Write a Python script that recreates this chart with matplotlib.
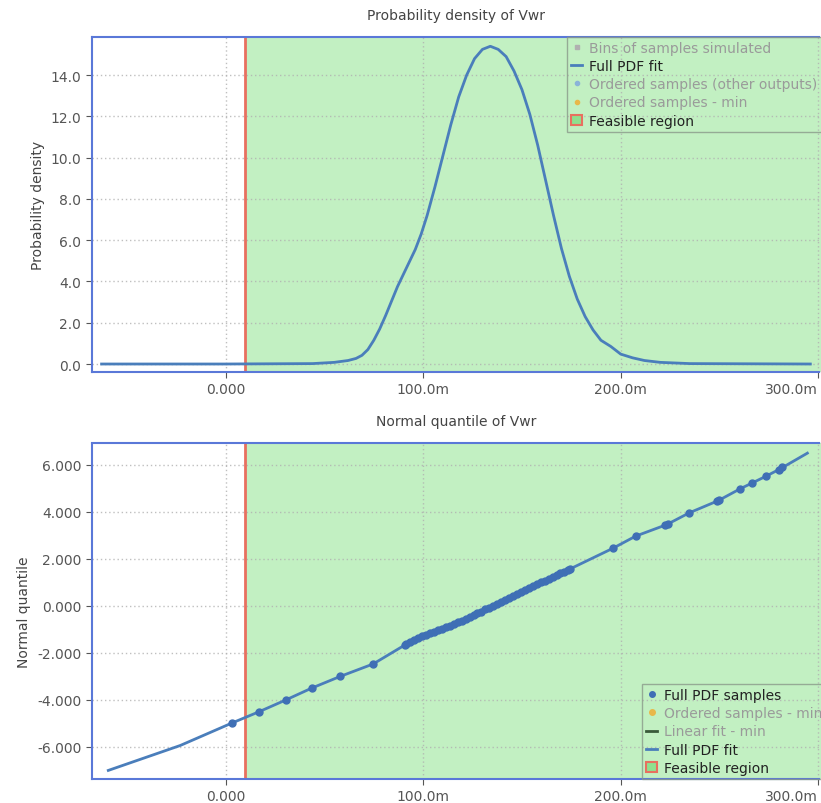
import matplotlib.pyplot as plt
from matplotlib.lines import Line2D
from matplotlib.patches import Patch

# PDF fit (x in V, y = density)
pdf_x = [-0.0628, 0.0, 0.044, 0.055, 0.062, 0.066, 0.069, 0.072, 0.075, 0.078, 0.081, 0.084,
         0.087, 0.090, 0.093, 0.096, 0.099, 0.102, 0.106, 0.110, 0.114, 0.118, 0.122, 0.126,
         0.130, 0.134, 0.138, 0.142, 0.146, 0.150, 0.154, 0.158, 0.162, 0.166, 0.170, 0.174,
         0.178, 0.182, 0.186, 0.190, 0.195, 0.200, 0.206, 0.212, 0.220, 0.235, 0.296]
pdf_y = [0.0, 0.0, 0.02, 0.08, 0.17, 0.27, 0.42, 0.70, 1.15, 1.70, 2.35, 3.05,
         3.75, 4.35, 4.95, 5.55, 6.30, 7.20, 8.60, 10.10, 11.60, 12.95, 14.00, 14.80,
         15.25, 15.40, 15.25, 14.90, 14.20, 13.30, 12.10, 10.60, 8.90, 7.20, 5.60, 4.25,
         3.15, 2.30, 1.65, 1.15, 0.85, 0.48, 0.30, 0.17, 0.08, 0.02, 0.0]

# normal quantile fit line
qfit_x = [-0.0594, -0.023, 0.003, 0.017, 0.0305, 0.0435, 0.058, 0.0747, 0.0908, 0.0984,
          0.122, 0.139, 0.1557, 0.1743, 0.196, 0.2076, 0.2233, 0.2347, 0.2494, 0.2604,
          0.2663, 0.2736, 0.2807, 0.2945]
qfit_y = [-7.0, -5.94, -4.99, -4.5, -4.0, -3.5, -3.0, -2.47, -1.66, -1.33,
          -0.55, 0.16, 0.86, 1.57, 2.45, 2.97, 3.46, 3.96, 4.48, 4.98,
          5.22, 5.52, 5.83, 6.5]

# full PDF samples (markers)
samp_x = [0.003, 0.017, 0.0305, 0.0435, 0.0579, 0.0747, 0.0908, 0.0915, 0.0935, 0.0955,
          0.0975, 0.0995, 0.1015, 0.1035, 0.1055, 0.1075, 0.1095, 0.1115, 0.1135, 0.1155,
          0.1175, 0.1195, 0.1215, 0.1235, 0.1255, 0.1275, 0.1295, 0.1315, 0.1335, 0.1355,
          0.1375, 0.1395, 0.1415, 0.1435, 0.1455, 0.1475, 0.1495, 0.1515, 0.1535, 0.1555,
          0.1575, 0.1595, 0.1615, 0.1635, 0.1655, 0.1675, 0.1695, 0.1715, 0.1735, 0.1745,
          0.196, 0.2076, 0.2225, 0.2240, 0.2347, 0.2485, 0.2500, 0.2604, 0.2663, 0.2736,
          0.2800, 0.2815]
samp_y = [-4.99, -4.5, -3.99, -3.49, -2.99, -2.47, -1.66, -1.62, -1.54, -1.45,
          -1.37, -1.30, -1.23, -1.17, -1.10, -1.04, -0.97, -0.90, -0.84, -0.77,
          -0.70, -0.64, -0.57, -0.49, -0.40, -0.32, -0.24, -0.15, -0.07, 0.01,
          0.10, 0.18, 0.26, 0.35, 0.43, 0.52, 0.60, 0.68, 0.77, 0.85,
          0.93, 1.01, 1.08, 1.16, 1.24, 1.31, 1.39, 1.46, 1.54, 1.58,
          2.45, 2.97, 3.44, 3.48, 3.96, 4.46, 4.50, 4.98, 5.22, 5.52,
          5.80, 5.90]

x_ticks = [0.0, 0.1, 0.2, 0.3]
x_labels = ['0.000', '100.0m', '200.0m', '300.0m']
pdf_ticks = [0, 2, 4, 6, 8, 10, 12, 14]
pdf_labels = ['0.0', '2.0', '4.0', '6.0', '8.0', '10.0', '12.0', '14.0']
q_ticks = [-6, -4, -2, 0, 2, 4, 6]
q_labels = ['-6.000', '-4.000', '-2.000', '0.000', '2.000', '4.000', '6.000']

feasible_min = 0.01

blue = '#4a7ebb'
green = '#c2f0c2'
red = '#e8705f'
txt = '#444444'
grey_txt = '#9a9a9a'


def style_axes(ax, yticks, ylabels, ylim):
    ax.set_xlim(-0.0678, 0.3014)
    ax.set_ylim(*ylim)
    ax.set_xticks(x_ticks)
    ax.set_xticklabels(x_labels)
    ax.get_xticklabels()[-1].set_horizontalalignment('right')
    ax.set_yticks(yticks)
    ax.set_yticklabels(ylabels)
    ax.tick_params(colors='#555555', labelsize=10, length=4)
    ax.set_axisbelow(True)
    ax.grid(True, color='#b0b0b0', linestyle=(0, (1, 2)), linewidth=1, alpha=0.8)
    for s in ['top', 'bottom', 'left']:
        ax.spines[s].set_color('#5a78d8')
        ax.spines[s].set_linestyle((0, (1, 1)))
        ax.spines[s].set_linewidth(1.5)
    ax.spines['right'].set_visible(False)
    ax.axvspan(feasible_min, 0.3014, color=green, zorder=0.2, linewidth=0)
    ax.axvline(feasible_min, color=red, linewidth=2, zorder=2)


fig = plt.figure(figsize=(8.21, 8.04), dpi=100)
ax1 = fig.add_axes([0.1117, 0.536, 0.8883, 0.417])
ax2 = fig.add_axes([0.1117, 0.030, 0.8883, 0.418])

# top: probability density
style_axes(ax1, pdf_ticks, pdf_labels, (-0.39, 15.86))
ax1.plot(pdf_x, pdf_y, color=blue, linewidth=2, zorder=3)
ax1.set_title('Probability density of Vwr', color=txt, fontsize=10, pad=13)
ax1.set_ylabel('Probability density', color=txt, fontsize=10)

h1 = [Line2D([], [], marker='s', linestyle='', color='#b0b0b0', markersize=3),
      Line2D([], [], color=blue, linewidth=2),
      Line2D([], [], marker='o', linestyle='', color='#8ab4d8', markersize=3),
      Line2D([], [], marker='o', linestyle='', color='#e8b84a', markersize=3),
      Patch(facecolor='#8fe08f', edgecolor=red, linewidth=1.5)]
l1 = ['Bins of samples simulated', 'Full PDF fit', 'Ordered samples (other outputs)',
      'Ordered samples - min', 'Feasible region']
leg1 = ax1.legend(h1, l1, loc='upper left', bbox_to_anchor=(0.652, 1.0), borderaxespad=0,
                  fontsize=10, frameon=True, fancybox=False, facecolor='none',
                  edgecolor='#8a9a8a', handlelength=0.8, handletextpad=0.5,
                  labelspacing=0.3, borderpad=0.3)
for t, on in zip(leg1.get_texts(), [False, True, False, False, True]):
    t.set_color('#222222' if on else grey_txt)

# bottom: normal quantile
style_axes(ax2, q_ticks, q_labels, (-7.36, 6.94))
ax2.plot(qfit_x, qfit_y, color=blue, linewidth=2, zorder=3)
ax2.plot(samp_x, samp_y, 'o', color='#3f6fb5', markersize=5, zorder=4)
ax2.set_title('Normal quantile of Vwr', color=txt, fontsize=10, pad=13)
ax2.set_ylabel('Normal quantile', color=txt, fontsize=10)

h2 = [Line2D([], [], marker='o', linestyle='', color='#3f6fb5', markersize=4),
      Line2D([], [], marker='o', linestyle='', color='#e8b84a', markersize=4),
      Line2D([], [], color='#3a5a3a', linewidth=2),
      Line2D([], [], color=blue, linewidth=2),
      Patch(facecolor='#8fe08f', edgecolor=red, linewidth=1.5)]
l2 = ['Full PDF samples', 'Ordered samples - min', 'Linear fit - min', 'Full PDF fit',
      'Feasible region']
leg2 = ax2.legend(h2, l2, loc='lower left', bbox_to_anchor=(0.7546, 0.0), borderaxespad=0,
                  fontsize=10, frameon=True, fancybox=False, facecolor='none',
                  edgecolor='#8a9a8a', handlelength=0.8, handletextpad=0.5,
                  labelspacing=0.3, borderpad=0.3)
for t, on in zip(leg2.get_texts(), [True, False, False, True, True]):
    t.set_color('#222222' if on else grey_txt)

fig.savefig('out.png', dpi=100)
